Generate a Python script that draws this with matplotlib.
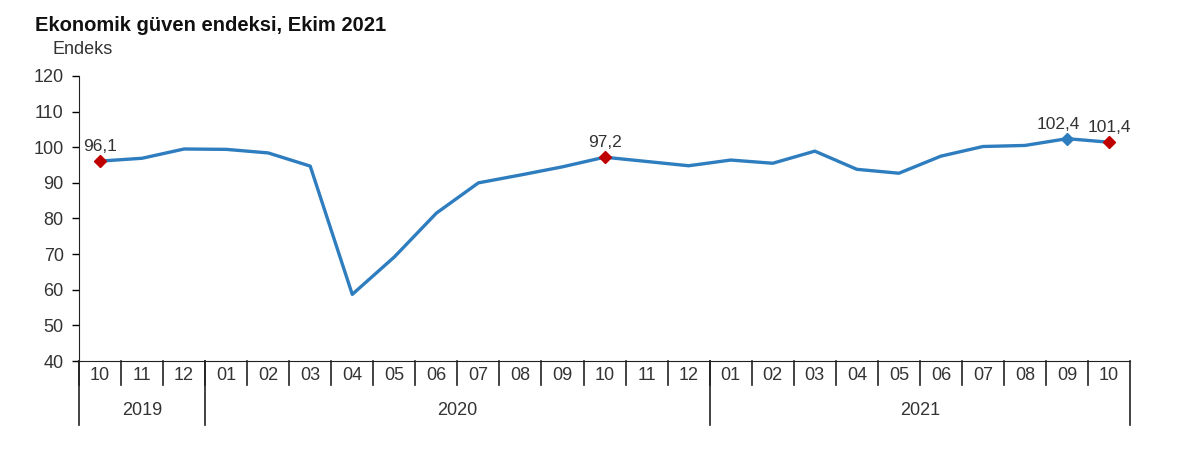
import numpy as np
import matplotlib.pyplot as plt

plt.rcParams['font.family'] = ['Liberation Sans', 'DejaVu Sans']

months = ["10", "11", "12", "01", "02", "03", "04", "05", "06", "07", "08", "09", "10",
          "11", "12", "01", "02", "03", "04", "05", "06", "07", "08", "09", "10"]
years = ["2019", "2020", "2021"]
year_counts = [3, 12, 10]
values = [96.1, 96.9, 99.5, 99.4, 98.4, 94.7, 58.7, 69.2, 81.5, 90.0, 92.2, 94.5, 97.2,
          96.0, 94.8, 96.4, 95.5, 98.9, 93.8, 92.7, 97.5, 100.2, 100.5, 102.4, 101.4]
red_idx = [0, 12, 24]
blue_idx = [23]

line_col = "#2e7dbf"
txt_col = "#333333"

fig = plt.figure(figsize=(12, 4.66), dpi=100)
ax = fig.add_axes([0.0658, 0.2253, 0.876, 0.6117])

x = np.arange(len(values))
ax.plot(x, values, color=line_col, lw=2.4, zorder=2)
for i in red_idx:
    ax.plot(x[i], values[i], marker="D", ms=6, color="#c00000", zorder=3)
for i in blue_idx:
    ax.plot(x[i], values[i], marker="D", ms=6, color=line_col, zorder=3)
for i in red_idx + blue_idx:
    dx = -6 if i in blue_idx else 0
    ax.annotate(f"{values[i]:.1f}".replace(".", ","), (x[i], values[i]),
                xytext=(dx, 5), textcoords="offset points", ha="center", va="bottom",
                fontsize=12.5, color=txt_col)

ax.set_xlim(-0.5, len(values) - 0.5)
ax.set_ylim(40, 120)
ax.set_yticks(range(40, 121, 10))
ax.tick_params(axis="y", labelsize=13, labelcolor=txt_col, length=5, width=1, pad=6)
ax.set_xticks([])
for s in ["top", "right"]:
    ax.spines[s].set_visible(False)
ax.spines["left"].set_color("#222222")
ax.spines["bottom"].set_color("#222222")

tr = ax.get_xaxis_transform()
# month labels and separators
for i, m in enumerate(months):
    ax.text(i, -0.05, m, transform=tr, ha="center", va="center", fontsize=13, color=txt_col)
    ax.plot([i - 0.5, i - 0.5], [0, -0.085], transform=tr, color="#222222", lw=1.2, clip_on=False)
# year labels and separators
start = 0
for y, n in zip(years, year_counts):
    ax.text(start + (n - 1) / 2, -0.175, y, transform=tr, ha="center", va="center",
            fontsize=13, color=txt_col)
    ax.plot([start - 0.5, start - 0.5], [0, -0.225], transform=tr, color="#222222", lw=1.2, clip_on=False)
    start += n
ax.plot([start - 0.5, start - 0.5], [0, -0.225], transform=tr, color="#222222", lw=1.2, clip_on=False)

fig.text(0.029, 0.945, "Ekonomik güven endeksi, Ekim 2021", fontsize=14.5, fontweight="bold",
         color="#111111", va="center")
fig.text(0.044, 0.893, "Endeks", fontsize=13, color=txt_col, va="center")

fig.savefig("out.png", dpi=100)
